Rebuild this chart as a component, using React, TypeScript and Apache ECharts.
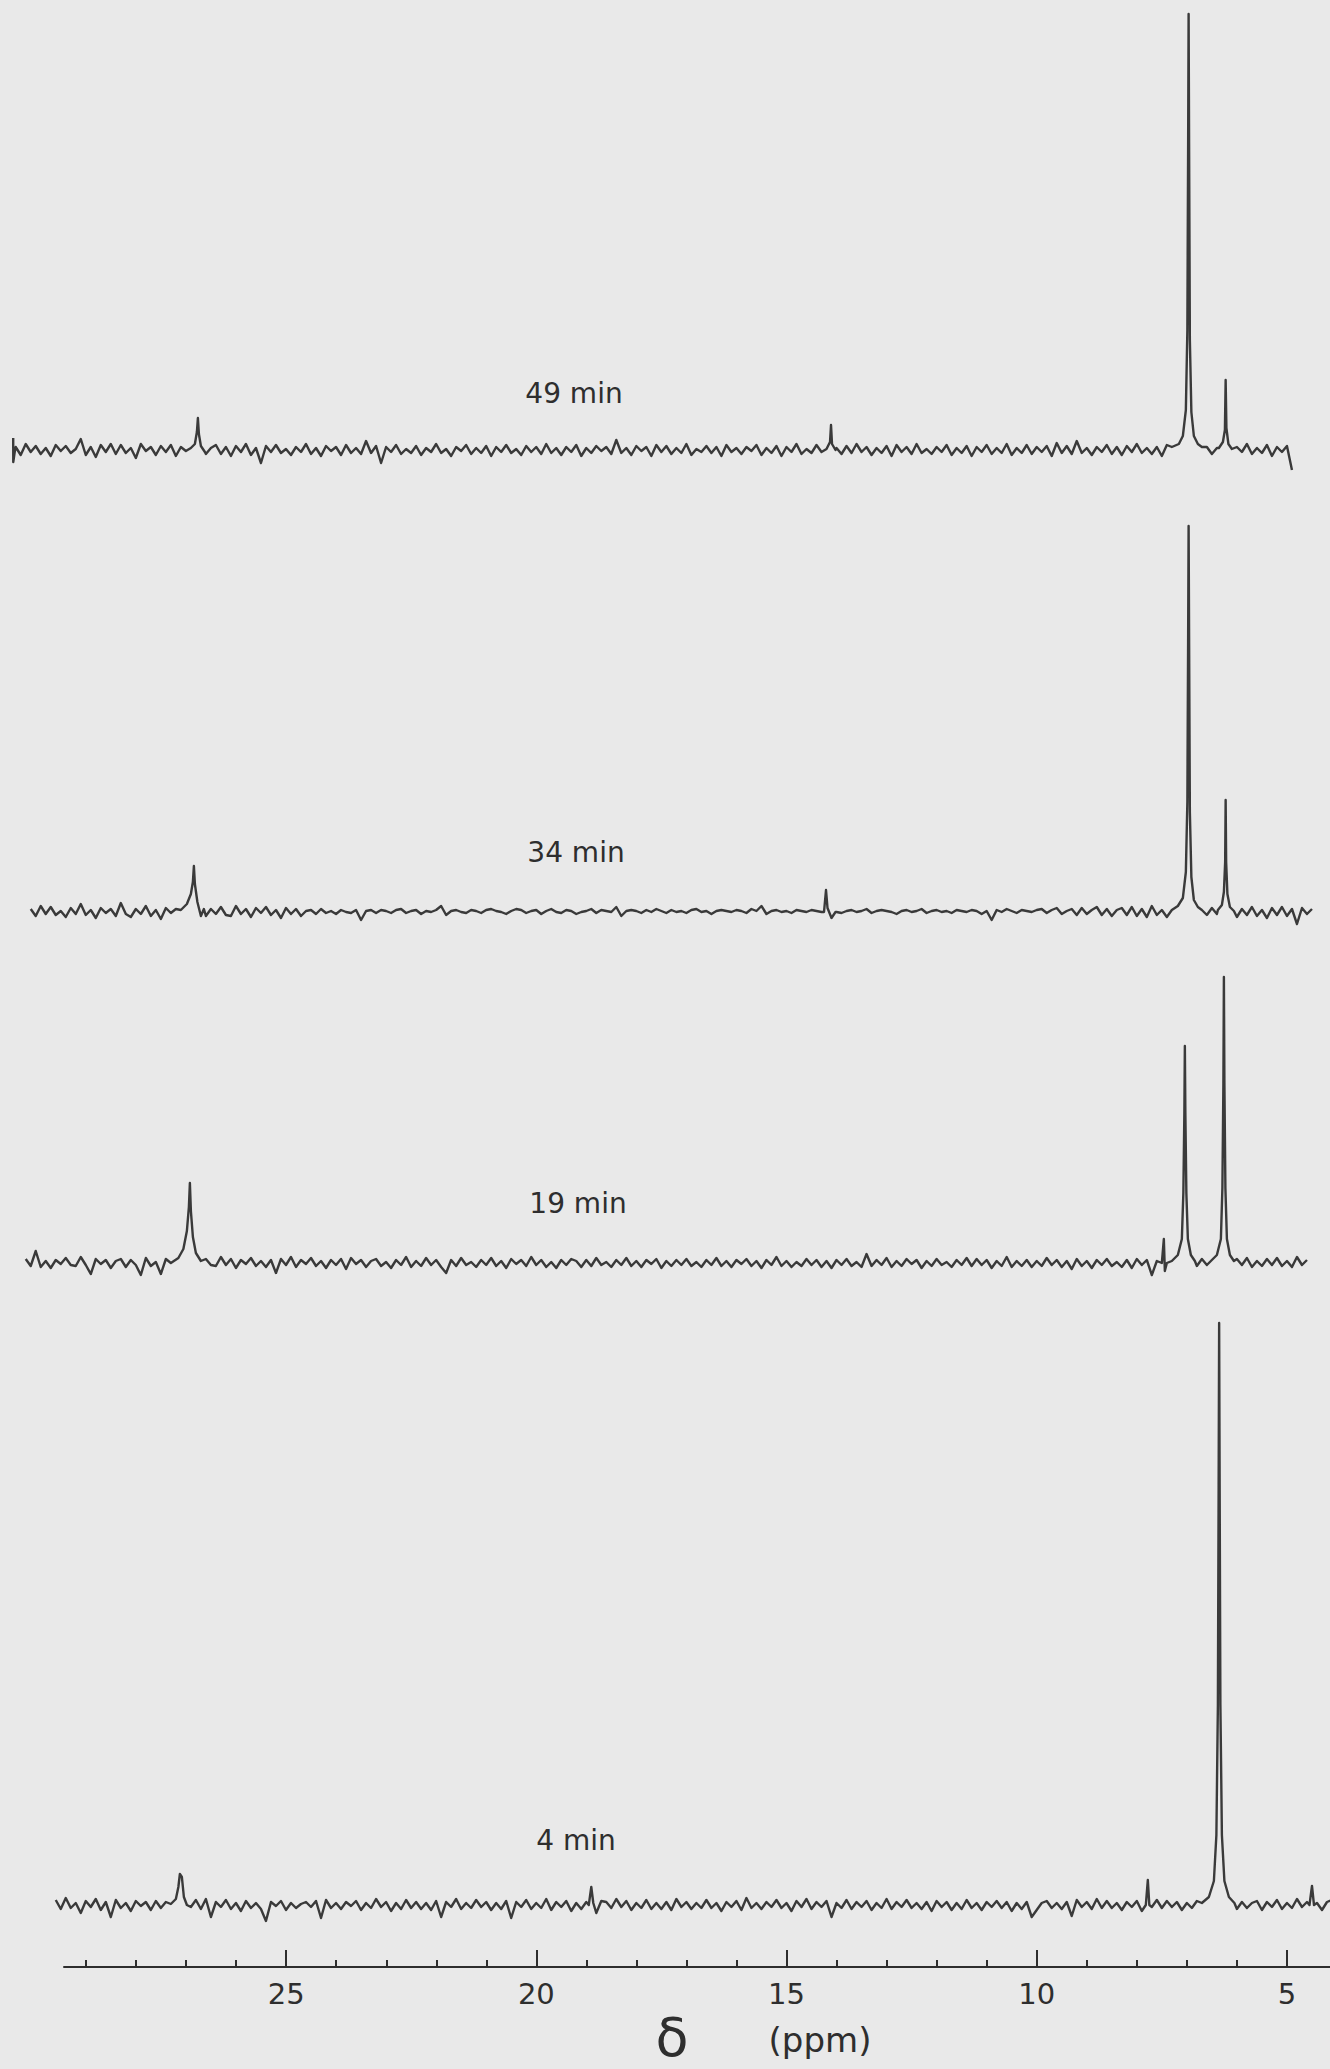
import React, { useEffect, useRef } from "react";
import * as echarts from "echarts";

// ---------- data ----------
const STEP = 0.1; // ppm spacing of the baseline samples
const traceLabels = ["49 min", "34 min", "19 min", "4 min"];
const noiseStart = [30.4, 30.1, 30.2, 29.6]; // ppm of the first baseline sample of each trace

const majorTicks = [5, 10, 15, 20, 25];
const minorTicks = [6, 7, 8, 9, 11, 12, 13, 14, 16, 17, 18, 19, 21, 22, 23, 24, 26, 27, 28, 29];

const noise49 = [
  3, -5, 6, -2, 4, -4, 2, -6, 5, -1,
  4, -3, 1, 11, -5, 3, -7, 5, -2, 6,
  -4, 5, -3, 2, -8, 6, -1, 3, -5, 4,
  -2, 5, -6, 3, -1, 0, 0, 0, -4, 2,
  5, -4, 3, -6, 4, -2, 6, -5, 2, -13,
  4, -2, 5, -3, 1, -5, 3, -2, 6, -4,
  2, -6, 4, -1, 3, -5, 5, -3, 2, -4,
  9, -3, 4, -13, 3, -2, 5, -4, 1, -3,
  4, -5, 2, -2, 6, -3, 1, -6, 3, -1,
  5, -4, 2, -3, 4, -6, 3, -2, 5, -3,
  1, -5, 4, -2, 3, -4, 6, -3, 2, -5,
  3, -2, 5, -6, 2, -3, 4, -1, 3, -4,
  10, -3, 2, -5, 4, -1, 3, -6, 5, -2,
  4, -4, 2, -3, 6, -5, 1, -2, 4, -3,
  3, -6, 5, -2, 2, -4, 3, -1, 5, -5,
  2, -3, 4, -6, 3, -2, 6, -4, 1, -3,
  5, -2, 3, -5, 2, -4, 4, -3, 6, -2,
  3, -5, 2, -3, 4, -6, 5, -2, 3, -4,
  6, -3, 1, -4, 3, -2, 5, -5, 2, -3,
  4, -6, 3, -2, 5, -4, 2, -3, 6, -5,
  2, -3, 5, -4, 3, -2, 4, -6, 7, -3,
  4, -4, 9, -3, 2, -5, 3, -2, 5, -4,
  3, -5, 4, -2, 6, -3, 2, -4, 3, -6,
  5, -3, 2, -4, 3, -5, 4, -2, 3, -4,
  2, -3, 4, -5, 3, -2, 6, -4, 2, -3,
  5, -6, 3, -2, 4, -20,
];

const noise34 = [
  3, -4, 6, -2, 5, -3, 1, -5, 4, -2,
  8, -3, 2, -6, 4, -1, 3, -4, 9, -2,
  -5, 3, -2, 6, -4, 2, -7, 4, -1, 3,
  0, 0, 0, 0, 0, -4, 3, -2, 5, -3,
  -4, 6, -2, 3, -5, 4, -1, 5, -3, 2,
  -6, 4, -2, 3, -4, 1, 2, -2, 3, -1,
  1, -2, 2, 0, -1, 2, -8, 1, 2, -1,
  2, 1, -1, 2, 3, -1, 1, 2, -2, 1,
  0, 2, 6, -3, 1, 2, 0, -1, 2, 1,
  -1, 2, 3, 1, 0, -2, 1, 3, 2, -1,
  1, 2, -2, 1, 3, 0, -1, 2, 1, -2,
  0, 1, 3, -1, 2, 1, 0, 5, -4, 1,
  2, 1, -1, 2, 0, 3, 1, -1, 2, 0,
  1, -1, 2, 3, 0, 1, -2, 1, 2, 1,
  0, 2, 1, -1, 3, 1, 6, -2, 1, 2,
  0, 1, -1, 2, 1, 0, 2, 1, 0, 0,
  0, 0, -1, 1, 2, 0, 1, 3, -1, 1,
  2, 1, 0, -2, 1, 2, 0, 1, 3, -1,
  1, 2, 0, 1, -1, 2, 1, 0, 2, 1,
  -2, 1, -8, 2, 0, 3, 1, -1, 2, 1,
  0, 2, 3, -1, 2, 4, -2, 1, 3, -3,
  4, -2, 2, 5, -3, 3, -4, 2, 4, -3,
  5, -4, 3, -5, 6, -3, 2, -5, 4, -3,
  0, 0, 0, 0, 0, -3, 4, -2, 0, 0,
  4, -5, 3, -3, 5, -4, 2, -6, 4, -3,
  5, -4, 3, -12, 4, -2, 3,
];

const noise19 = [
  4, -3, 12, -4, 2, -5, 3, -1, 5, -2,
  -3, 6, -2, -11, 4, -1, 3, -5, 2, 4,
  -4, 3, -2, -12, 5, -3, 1, -11, 4, 0,
  0, 0, 0, 0, 0, 0, 4, -2, -3, 6,
  -2, 4, -5, 3, -1, 5, -3, 2, -4, 3,
  -10, 4, -2, 6, -4, 3, -1, 5, -3, 2,
  -5, 3, -2, 4, -6, 5, -1, 3, -4, 2,
  4, -3, 1, -5, 3, -2, 6, -4, 2, -3,
  5, -2, 3, -4, -10, 3, -3, 5, -2, 1,
  -4, 3, -2, 5, -3, 2, -5, 4, -1, 3,
  -3, 6, -2, 3, -4, 1, -5, 3, -2, 4,
  2, -4, 3, -3, 5, -2, 1, -4, 3, -2,
  5, -3, 2, -4, 3, -1, 4, -5, 2, -3,
  3, -2, 4, -3, 1, -4, 3, -2, 5, -3,
  2, -4, 3, -1, 4, -3, 2, -5, 3, -2,
  6, -3, 2, -4, 1, -3, 4, -2, 3, -4,
  2, -5, 3, -2, 4, -3, 1, -4, 9, -3,
  3, -2, 5, -4, 2, -3, 4, -1, 3, -5,
  2, -3, 4, -2, 1, -4, 3, -2, 5, -3,
  4, -2, 3, -5, 2, -3, 6, -4, 2, -3,
  3, -4, 2, -3, 5, -2, 3, -4, 2, -6,
  4, -3, 2, -5, 3, -2, 4, -3, 1, -4,
  3, -5, 4, -2, 3, -12, 2, 0, 0, 0,
  0, 0, 0, 0, -3, 4, -2, 0, 0, 0,
  0, 0, 4, -2, 5, -4, 2, -3, 4, -2,
  5, -3, 2, -4, 6, -2, 3,
];

const noise4 = [
  5, -4, 7, -3, 2, -8, 4, -2, 6, -5,
  3, -12, 5, -3, 2, -6, 4, -1, 3, -5,
  4, -3, 3, 0, 0, 0, 0, -2, 5, -4,
  6, -12, 3, -2, 5, -4, 2, -6, 4, -3,
  2, -4, -16, 3, -1, 4, -5, 2, -3, 1,
  3, -2, 4, -13, 5, -3, 2, -4, 3, -1,
  4, -5, 2, -3, 6, -2, 3, -6, 2, -4,
  5, -3, 3, -4, 2, -5, 4, -12, 3, -2,
  6, -4, 2, -3, 5, -2, 3, -5, 2, -4,
  4, -13, 3, -2, 5, -4, 2, -3, 6, -5,
  3, -2, 4, -6, 2, -4, 3, 0, -8, 4,
  3, -3, 6, -2, 4, -5, 2, -3, 5, -4,
  2, -4, 3, -5, 6, -2, 3, -4, 2, -3,
  5, -3, 2, -6, 3, -2, 4, -5, 7, -3,
  2, -4, 3, -2, 5, -3, 2, -6, 4, -2,
  6, -4, 3, -2, 4, -12, 2, -3, 5, -4,
  3, -2, 4, -5, 2, -3, 6, -4, 3, -2,
  5, -3, 2, -4, 3, -6, 4, -2, 3, -5,
  2, -4, 5, -3, 2, -5, 3, -2, 4, -3,
  3, -6, 2, -4, 3, -12, -5, 2, 4, -3,
  2, -4, 3, -11, 5, -2, 3, -4, 6, -3,
  4, -3, 2, -5, 3, -2, 4, -6, 3, -2,
  5, -3, 4, -2, 3, -5, 2, -3, 4, -2,
  0, 0, 0, 0, 0, 0, -4, 3, -3, 2,
  4, -5, 3, -2, 5, -4, 2, -3, 6, -2,
  3, -4, 2, -5, 3, 5,
];

// peaks: lists of [ppm, intensity]
const peaks49 = [
  [[30.45, 12], [30.449, -12], [30.42, -2]],
  [[26.9, 2], [26.82, 6], [26.78, 18], [26.76, 32], [26.74, 16], [26.7, 4], [26.62, -2]],
  [[14.2, 1], [14.13, 8], [14.11, 25], [14.09, 6], [14.02, 0]],
  [[7.3, 3], [7.16, 6], [7.08, 14], [7.02, 40], [6.99, 120], [6.975, 300], [6.965, 436], [6.955, 300], [6.94, 110], [6.91, 38], [6.86, 14], [6.78, 6], [6.7, 3]],
  [[6.36, 2], [6.28, 8], [6.24, 20], [6.225, 70], [6.21, 22], [6.17, 6], [6.1, 1]],
];
const peaks34 = [
  [[27.1, 2], [26.98, 8], [26.9, 18], [26.86, 30], [26.84, 46], [26.82, 28], [26.77, 10], [26.7, -4], [26.64, 3]],
  [[14.25, 0], [14.21, 22], [14.18, 4], [14.1, -6], [14.02, 0]],
  [[7.3, 2], [7.18, 6], [7.08, 14], [7.02, 40], [6.99, 110], [6.975, 270], [6.965, 386], [6.955, 270], [6.94, 100], [6.91, 35], [6.86, 12], [6.78, 5], [6.7, 2]],
  [[6.38, 2], [6.3, 7], [6.26, 20], [6.235, 50], [6.225, 112], [6.215, 50], [6.19, 18], [6.14, 5], [6.06, 1]],
];
const peaks19 = [
  [[27.3, 0], [27.15, 5], [27.05, 14], [26.98, 32], [26.94, 56], [26.92, 80], [26.9, 52], [26.86, 26], [26.8, 10], [26.7, 2]],
  [[7.5, 0], [7.46, 24], [7.44, -8], [7.4, 0]],
  [[7.3, 2], [7.18, 8], [7.1, 24], [7.07, 70], [7.05, 150], [7.04, 217], [7.03, 150], [7.01, 70], [6.98, 24], [6.92, 8], [6.84, 2]],
  [[6.52, 2], [6.4, 8], [6.32, 24], [6.29, 75], [6.27, 180], [6.26, 286], [6.25, 180], [6.23, 75], [6.2, 24], [6.14, 8], [6.06, 2]],
];
const peaks4 = [
  [[27.3, 1], [27.2, 6], [27.15, 18], [27.12, 31], [27.08, 28], [27.04, 8], [26.98, 0]],
  [[18.95, 0], [18.9, 18], [18.86, 2]],
  [[7.82, 0], [7.78, 25], [7.75, 0]],
  [[6.7, 2], [6.56, 8], [6.46, 24], [6.41, 70], [6.38, 200], [6.365, 420], [6.355, 582], [6.345, 420], [6.33, 200], [6.3, 70], [6.25, 24], [6.16, 8], [6.05, 2]],
  [[4.55, 0], [4.5, 19], [4.46, 0]],
];

// ---------- layout ----------
const W = 1330;
const H = 2069;
const PPM_RIGHT = 4.14;
const PPM_LEFT_TRACE = 30.714;
const AXIS_LEFT_PX = 64;
const PPM_LEFT_AXIS = 29.44;
const baselineY = [450, 912, 1263, 1905];
const headroom = [450, 450, 450, 600];
const FOOT = 40;
const labelXY = [
  [574, 393],
  [576, 852],
  [578, 1203],
  [576, 1840],
];
const AXIS_Y = 1967;

function buildTrace(noise: number[], start: number, features: number[][][]) {
  const ranges = features.map((f) => {
    const xs = f.map((p) => p[0]);
    return [Math.min(...xs), Math.max(...xs)];
  });
  const pts: number[][] = [];
  noise.forEach((v, i) => {
    const x = Math.round((start - i * STEP) * 100) / 100;
    if (!ranges.some(([a, b]) => x >= a - 1e-6 && x <= b + 1e-6)) pts.push([x, v]);
  });
  features.forEach((f) => f.forEach((p) => pts.push(p)));
  pts.sort((a, b) => b[0] - a[0]);
  return pts;
}

export default function App() {
  const ref = useRef<HTMLDivElement>(null);
  useEffect(() => {
    document.body.style.margin = "0";
    if (!ref.current) return;
    const chart = echarts.init(ref.current, null, { renderer: "svg", width: W, height: H });
    const noises = [noise49, noise34, noise19, noise4];
    const peakSets = [peaks49, peaks34, peaks19, peaks4];
    const traceColor = "#3a3a3a";
    const ink = "#2e2e2e";

    const grids: any[] = [];
    const xAxes: any[] = [];
    const yAxes: any[] = [];
    const series: any[] = [];

    noises.forEach((n, i) => {
      grids.push({ left: 0, width: W, top: baselineY[i] - headroom[i], height: headroom[i] + FOOT });
      xAxes.push({ type: "value", gridIndex: i, min: PPM_RIGHT, max: PPM_LEFT_TRACE, inverse: true, show: false });
      yAxes.push({ type: "value", gridIndex: i, min: -FOOT, max: headroom[i], show: false });
      series.push({
        type: "line",
        name: traceLabels[i],
        xAxisIndex: i,
        yAxisIndex: i,
        data: buildTrace(n, noiseStart[i], peakSets[i]),
        showSymbol: false,
        symbol: "none",
        lineStyle: { color: traceColor, width: 2.4, join: "round" },
        clip: true,
      });
    });

    // visible ppm axis
    grids.push({ left: AXIS_LEFT_PX, right: 0, top: AXIS_Y - 60, height: 60 });
    xAxes.push({
      type: "value",
      gridIndex: 4,
      min: PPM_RIGHT,
      max: PPM_LEFT_AXIS,
      inverse: true,
      position: "bottom",
      axisLine: { show: true, lineStyle: { color: ink, width: 2 } },
      axisTick: { show: true, inside: true, length: 17, customValues: majorTicks, lineStyle: { color: ink, width: 2 } },
      axisLabel: {
        show: true,
        customValues: majorTicks,
        margin: 12,
        fontSize: 29,
        color: ink,
        fontFamily: "DejaVu Sans",
      },
      splitLine: { show: false },
    });
    xAxes.push({
      type: "value",
      gridIndex: 4,
      min: PPM_RIGHT,
      max: PPM_LEFT_AXIS,
      inverse: true,
      position: "bottom",
      offset: 0,
      axisLine: { show: false },
      axisTick: { show: true, inside: true, length: 7, customValues: minorTicks, lineStyle: { color: ink, width: 2 } },
      axisLabel: { show: false },
      splitLine: { show: false },
    });
    yAxes.push({ type: "value", gridIndex: 4, min: 0, max: 1, show: false });

    const graphics: any[] = traceLabels.map((t, i) => ({
      type: "text",
      x: labelXY[i][0],
      y: labelXY[i][1],
      style: {
        text: t,
        fill: ink,
        font: "28px 'DejaVu Sans'",
        textAlign: "center",
        textVerticalAlign: "middle",
      },
    }));
    graphics.push({
      type: "text",
      x: 672,
      y: 2037,
      style: { text: "δ", fill: ink, font: "54px 'DejaVu Sans'", textAlign: "center", textVerticalAlign: "middle" },
    });
    graphics.push({
      type: "text",
      x: 820,
      y: 2040,
      style: { text: "(ppm)", fill: ink, font: "34px 'DejaVu Sans'", textAlign: "center", textVerticalAlign: "middle" },
    });

    chart.setOption({
      animation: false,
      backgroundColor: "#e9e9e9",
      grid: grids,
      xAxis: xAxes,
      yAxis: yAxes,
      series,
      graphic: graphics,
    });
    return () => chart.dispose();
  }, []);
  return (
    <div
      ref={ref}
      style={{ position: "absolute", left: 0, top: 0, width: W, height: H, background: "#e9e9e9" }}
    />
  );
}
